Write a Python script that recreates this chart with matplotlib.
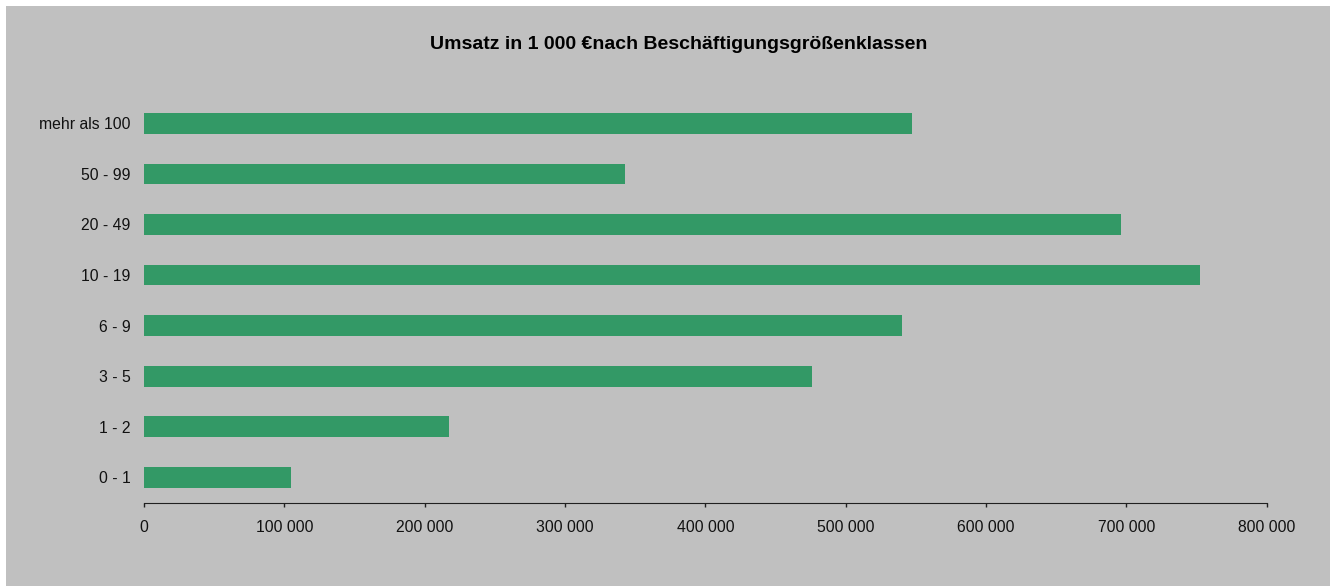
import matplotlib
matplotlib.use("Agg")
import matplotlib.pyplot as plt
from matplotlib.patches import Rectangle
from matplotlib.ticker import FuncFormatter

# Umsatz in 1 000 EUR je Beschaeftigungsgroessenklasse
klassen = ["0 - 1", "1 - 2", "3 - 5", "6 - 9", "10 - 19", "20 - 49", "50 - 99", "mehr als 100"]
umsatz = [104500, 217300, 476000, 540100, 752500, 696200, 342800, 547300]
x_ticks = [0, 100000, 200000, 300000, 400000, 500000, 600000, 700000, 800000]

titel = "Umsatz in 1 000 €nach Beschäftigungsgrößenklassen"

plt.rcParams["font.family"] = ["Liberation Sans", "DejaVu Sans"]

W, H = 1330, 586
fig = plt.figure(figsize=(W / 100, H / 100), dpi=100)
fig.patch.set_facecolor("white")
fig.patches.append(Rectangle((6 / W, 0), 1, (H - 6) / H, transform=fig.transFigure,
                             facecolor="#C0C0C0", edgecolor="none", zorder=-10))

left, right, top, bottom = 144, 1266.7, 98, 502.7
ax = fig.add_axes([left / W, 1 - bottom / H, (right - left) / W, (bottom - top) / H])
ax.set_facecolor("none")

ax.barh(range(len(klassen)), umsatz, height=0.41, color="#339966")

ax.set_xlim(0, 800000)
ax.set_ylim(-0.5, len(klassen) - 0.5)
ax.set_xticks(x_ticks)
ax.xaxis.set_major_formatter(FuncFormatter(lambda v, p: f"{int(v):,}".replace(",", " ")))
ax.set_yticks(range(len(klassen)))
ax.set_yticklabels(klassen)

for s in ["top", "right", "left"]:
    ax.spines[s].set_visible(False)
ax.spines["bottom"].set_color("#202020")
ax.tick_params(axis="y", length=0, pad=9.5, labelsize=11.3, labelcolor="#111111")
ax.tick_params(axis="x", length=3, width=1, color="#202020", pad=9.5,
               labelsize=11.3, labelcolor="#111111")

fig.text(678.5 / W, 1 - 44.5 / H, titel, ha="center", va="center",
         fontsize=14, fontweight="bold", color="black")

fig.savefig("out.png", dpi=100)
